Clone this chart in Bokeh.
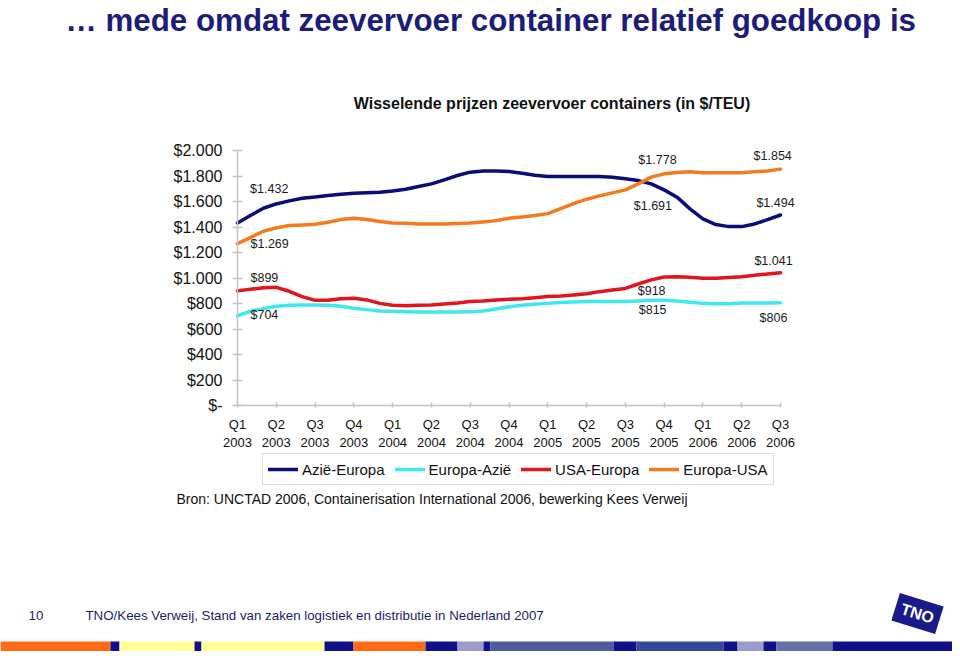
from bokeh.plotting import figure
from bokeh.models import Range1d, FixedTicker, Label, Legend, LegendItem
from bokeh.embed import file_html
from bokeh.resources import INLINE

FONT = "Liberation Sans"

# ---------------- data ----------------
quarters = ["Q1\n2003", "Q2\n2003", "Q3\n2003", "Q4\n2003",
            "Q1\n2004", "Q2\n2004", "Q3\n2004", "Q4\n2004",
            "Q1\n2005", "Q2\n2005", "Q3\n2005", "Q4\n2005",
            "Q1\n2006", "Q2\n2006", "Q3\n2006"]

# monthly readings, Jan 2003 .. Jul 2006 (43 points, 3 per quarter)
months = list(range(43))

azie_europa = [1432, 1490, 1547, 1581, 1605, 1626, 1636, 1647, 1657, 1665,
               1668, 1673, 1683, 1696, 1717, 1738, 1770, 1804, 1830, 1840,
               1840, 1836, 1822, 1806, 1796, 1796, 1796, 1796, 1796, 1791,
               1778, 1764, 1738, 1691, 1634, 1542, 1464, 1419, 1403, 1403,
               1424, 1458, 1494]

europa_azie = [704, 739, 760, 778, 786, 788, 788, 786, 778, 762,
               752, 741, 739, 736, 733, 733, 733, 733, 736, 741,
               757, 775, 786, 794, 801, 807, 812, 815, 816, 816,
               815, 820, 825, 825, 820, 809, 801, 799, 799, 804,
               804, 804, 806]

usa_europa = [899, 911, 924, 927, 896, 854, 825, 825, 838, 841,
              828, 801, 786, 783, 786, 788, 796, 804, 815, 820,
              828, 833, 838, 846, 854, 859, 867, 877, 893, 905,
              918, 953, 985, 1008, 1010, 1005, 998, 998, 1003, 1010,
              1021, 1032, 1041]

europa_usa = [1269, 1317, 1367, 1393, 1411, 1416, 1422, 1437, 1458, 1469,
              1458, 1443, 1432, 1430, 1424, 1424, 1424, 1427, 1432, 1440,
              1450, 1469, 1479, 1490, 1505, 1545, 1584, 1618, 1644, 1668,
              1691, 1738, 1791, 1817, 1827, 1833, 1825, 1825, 1825, 1825,
              1833, 1840, 1854]

series_names = ["Azië-Europa", "Europa-Azië", "USA-Europa", "Europa-USA"]

y_ticks = [0, 200, 400, 600, 800, 1000, 1200, 1400, 1600, 1800, 2000]
y_tick_labels = ["$-", "$200", "$400", "$600", "$800", "$1.000",
                 "$1.200", "$1.400", "$1.600", "$1.800", "$2.000"]

# ---------------- layout / styles ----------------
colors = ["#0c0c78", "#3fe8f0", "#e2141c", "#f47a20"]

def fmt(v):
    return "$" + "{:,}".format(int(v)).replace(",", ".")

x_q = [m / 3 for m in months]

W, H = 952, 651
# chart plot area on the page (pixels)
PL, PR, PT, PB = 237.0, 780.0, 150.0, 405.0
QN = len(quarters) - 1
YMAX = y_ticks[-1]
ux = (PR - PL) / QN
uy = (PB - PT) / YMAX

p = figure(width=W, height=H,
           x_range=Range1d(-PL / ux, QN + (W - PR) / ux),
           y_range=Range1d(-(H - PB) / uy, YMAX + PT / uy),
           output_backend="svg", toolbar_location=None, min_border=0)
p.outline_line_color = None
p.xgrid.visible = False
p.ygrid.visible = False
p.background_fill_color = "white"
p.border_fill_color = "white"

# page-pixel coordinate ranges for slide decorations
p.extra_x_ranges = {"px": Range1d(0, W)}
p.extra_y_ranges = {"py": Range1d(H, 0)}

all_series = [azie_europa, europa_azie, usa_europa, europa_usa]
renderers = []
for vals, c in zip(all_series, colors):
    r = p.line(x_q, vals, line_color=c, line_width=3.5, line_join="round", line_cap="round")
    renderers.append(r)

# axes (placed at the chart origin)
ax = p.xaxis[0]
ax.fixed_location = 0
ax.bounds = (0, QN)
ax.ticker = FixedTicker(ticks=list(range(len(quarters))))
ax.major_label_overrides = {i: q for i, q in enumerate(quarters)}
ax.major_label_text_font = FONT
ax.major_label_text_font_size = "13px"
ax.major_label_text_color = "#111111"
ax.major_tick_in = 3
ax.major_tick_out = 2
ax.minor_tick_line_color = None
ax.major_label_standoff = 9
ax.axis_line_color = "#c4c4c4"
ax.major_tick_line_color = "#c4c4c4"
ax.axis_line_width = 1.5
ax.major_tick_line_width = 1.5

ay = p.yaxis[0]
ay.fixed_location = 0
ay.bounds = (0, YMAX)
ay.ticker = FixedTicker(ticks=y_ticks)
ay.major_label_overrides = {t: l for t, l in zip(y_ticks, y_tick_labels)}
ay.major_label_text_font = FONT
ay.major_label_text_font_size = "16px"
ay.major_label_text_color = "#111111"
ay.major_tick_in = 5
ay.major_tick_out = 5
ay.minor_tick_line_color = None
ay.major_label_standoff = 10
ay.axis_line_color = "#c4c4c4"
ay.major_tick_line_color = "#c4c4c4"
ay.axis_line_width = 1.5
ay.major_tick_line_width = 1.5

# data labels: (series index, month index, dx, dy, align)
data_labels = [
    (0, 0, 12.6, 34, "left"),
    (3, 0, 13, 0, "left"),
    (2, 0, 13, 12.4, "left"),
    (1, 0, 13, 0.5, "left"),
    (0, 30, 13, 19, "left"),
    (3, 30, 8.4, -15.7, "left"),
    (2, 30, 12.4, -2.3, "left"),
    (1, 30, 13.4, -8.2, "left"),
    (3, 42, -7.8, 13.6, "center"),
    (0, 42, -5, 11.7, "center"),
    (2, 42, -7, 12, "center"),
    (1, 42, -7, -14.8, "center"),
]
for si, mi, dx, dy, al in data_labels:
    v = all_series[si][mi]
    p.add_layout(Label(x=x_q[mi], y=v, text=fmt(v), x_offset=dx, y_offset=dy,
                       text_align=al, text_baseline="middle",
                       text_font=FONT, text_font_size="12.5px", text_color="#1a1a1a"))

# legend (bottom-left corner given in pixels from the figure's bottom-left)
legend = Legend(items=[LegendItem(label=n, renderers=[r]) for n, r in zip(series_names, renderers)],
                orientation="horizontal", location=(262, H - 485),
                label_text_font=FONT, label_text_font_size="15px", label_text_color="#111111",
                glyph_width=30, glyph_height=20, label_height=20, label_standoff=4,
                spacing=10, padding=5, margin=0,
                border_line_color="#bdbdbd", border_line_width=1,
                background_fill_color="white", background_fill_alpha=1)
p.add_layout(legend)

def deco(x, y, text, size, color="#111111", style="normal", align="left", baseline="middle"):
    p.add_layout(Label(x=x, y=y, x_range_name="px", y_range_name="py", text=text,
                       text_font=FONT, text_font_size=size, text_color=color,
                       text_font_style=style, text_align=align, text_baseline=baseline))

deco(65, 20, "\u2026 mede omdat zeevervoer container relatief goedkoop is", "31.3px",
     color="#1c1c7c", style="bold", baseline="middle")
deco(551.5, 103, "Wisselende prijzen zeevervoer containers (in $/TEU)", "16px", style="bold", align="center")
deco(176, 498, "Bron: UNCTAD 2006, Containerisation International 2006, bewerking Kees Verweij", "14px")
deco(28, 615, "10", "13.3px", color="#1c1c6e")
deco(85, 615, "TNO/Kees Verweij, Stand van zaken logistiek en distributie in Nederland 2007", "13.3px",
     color="#1c1c6e")

# logo
p.add_layout(Label(x=917, y=613, x_range_name="px", y_range_name="py", text="TNO",
                   text_font=FONT, text_font_size="16px", text_font_style="bold",
                   text_color="white", text_align="center", text_baseline="middle",
                   background_fill_color="#1a1a8a", angle=-0.3, padding=6))

# bottom colour bar (slide decoration)
bar_left = [0, 110, 119, 194, 201, 324, 353, 425, 457, 483, 490, 613, 636, 723, 737, 763, 776, 832]
bar_right = [110, 119, 194, 201, 324, 353, 425, 457, 483, 490, 613, 636, 723, 737, 763, 776, 832, 952]
bar_color = ["#ff6a14", "#10108a", "#ffff99", "#10108a", "#ffff99", "#10108a", "#ff6a14", "#10108a",
             "#9a9acc", "#10108a", "#4d5a9c", "#10108a", "#34479a", "#10108a", "#9a9acc", "#10108a",
             "#6670aa", "#10108a"]
p.quad(left=bar_left, right=bar_right, bottom=H, top=H - 10, fill_color=bar_color, line_color=None,
       x_range_name="px", y_range_name="py")

open("out.html", "w").write(file_html(p, INLINE))
